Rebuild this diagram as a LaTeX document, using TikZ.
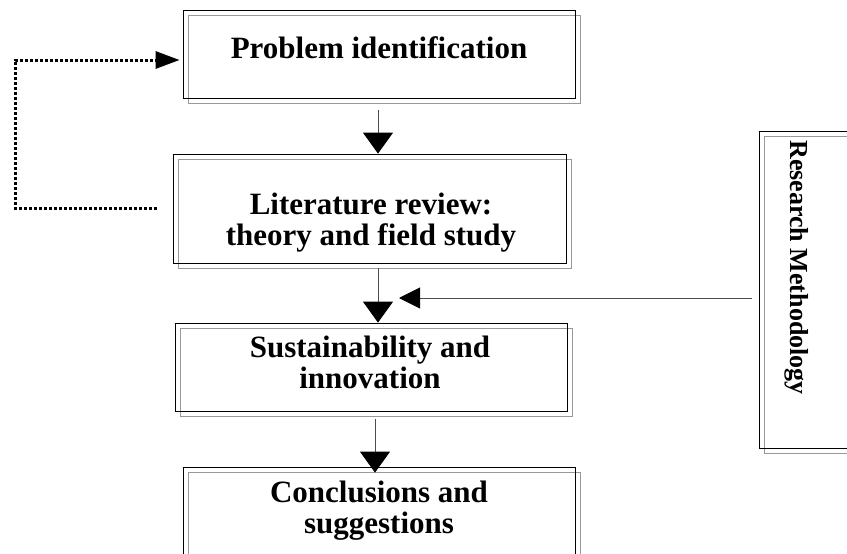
\documentclass[tikz,border=0pt]{standalone}
\usepackage{fontspec}
\setmainfont{Liberation Serif}
\usepackage{tikz}
\usetikzlibrary{arrows.meta,shadows}
\tikzstyle{stagebox}=[draw=black,line width=.8pt,inner sep=0pt,minimum width=392pt,minimum height=88pt,
  copy shadow={shadow xshift=5.5pt,shadow yshift=-5pt,draw=black!40,line width=.8pt,fill=none}]
\tikzstyle{stagetext}=[align=center,inner sep=0pt,font=\fontsize{31}{31}\selectfont\bfseries]
\tikzstyle{flow} = [draw=black!70,line width=.9pt,-{Triangle[length=21pt,width=30pt,color=black]}]
\tikzstyle{feedback} = [draw=black,line width=3pt,dash pattern=on 3pt off 2pt,-{Triangle[length=24pt,width=17pt]}]

\begin{document}
\begin{tikzpicture}[x=1pt,y=-1pt]
        \useasboundingbox (0,0) rectangle (847,554);
        % boxes
        \node[stagebox] (prob) at (379,54) {};
        \node[stagebox,minimum width=393pt,minimum height=109pt] (lit) at (369.5,208.5) {};
        \node[stagebox] (sust) at (371,367) {};
        \node[stagebox,minimum height=100pt] (concl) at (379,517) {};
        \node[stagebox,minimum width=121pt,minimum height=317pt] (meth) at (819.5,289.5) {};
        % texts
        \node[stagetext,anchor=north] (probtxt) at (379,36) {Problem identification};
        \node[stagetext,anchor=north] (littxt) at (371,193) {Literature review:\\theory and field study};
        \node[stagetext,anchor=north] (susttxt) at (370,336) {Sustainability and\\innovation};
        \node[stagetext,anchor=north] (concltxt) at (379,481) {Conclusions and\\suggestions};
        \node[rotate=-90,anchor=base,inner sep=0pt,font=\fontsize{26}{26}\selectfont\bfseries] (methtxt) at (790,267.5) {Research Methodology};
        % arrows
        \coordinate (mid) at (399,298);
        \coordinate (corner) at (15,60);
        \draw[flow] ([xshift=-1pt,yshift=-12pt]prob.south) -- ([xshift=-1pt]prob.south |- lit.north);
        \draw[flow] ([xshift=8.5pt,yshift=-5pt]lit.south) -- ([xshift=8.5pt]lit.south |- sust.north);
        \draw[flow,shorten >=-6pt] ([xshift=4pt,yshift=-8pt]sust.south) -- ([xshift=4pt]sust.south |- concl.north);
        \draw[flow,-{Triangle[length=21pt,width=21pt,color=black]}] ([xshift=-7pt,yshift=-8.5pt]meth.west) -- (mid);
        \draw[feedback] ([xshift=-16pt]lit.west) -| (corner) -- ([xshift=-3pt,yshift=-6pt]prob.west);
\end{tikzpicture}
\end{document}
